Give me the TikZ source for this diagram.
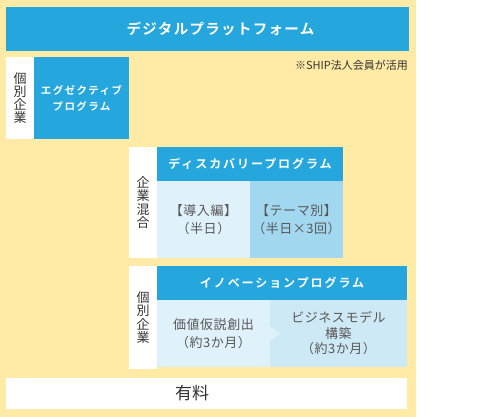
\documentclass[tikz,border=0pt]{standalone}
\usepackage{fontspec}
\setmainfont{Noto Sans CJK JP}[BoldFont={Noto Sans CJK JP Bold}]
\usetikzlibrary{positioning}
\definecolor{ylbg}{HTML}{FFEAA6}
\definecolor{sblue}{HTML}{25A6DC}
\definecolor{palecell}{HTML}{DFF1FA}
\definecolor{midcell}{HTML}{A1D8F0}
\definecolor{softcell}{HTML}{CDE9F5}
\definecolor{txtgray}{HTML}{595757}
\definecolor{txtdark}{HTML}{333333}

\begin{document}
\begin{tikzpicture}[x=1pt,y=-1pt,
  bluebar/.style={fill=sblue,text=white,inner sep=0pt,outer sep=0pt},
  sidelbl/.style={fill=white,inner sep=0pt,outer sep=0pt,minimum width=28pt,align=center,text=txtdark,font=\fontsize{13}{13.2}\selectfont},
  cellbox/.style={inner sep=0pt,outer sep=0pt,align=center,text=txtgray,font=\fontsize{13}{17.5}\selectfont\addfontfeature{LetterSpace=4}}]
\useasboundingbox (0,0) rectangle (504,417);
\fill[ylbg] (0,0) rectangle (416,417);
% platform bar
\node[bluebar,minimum width=403pt,minimum height=44pt] (plat) at (207.5,29) {};
\node[text=white,inner sep=0pt,font=\bfseries\fontsize{14.5}{16}\selectfont\addfontfeature{LetterSpace=9}] (plattxt) at (220.5,29) {デジタルプラットフォーム};
\node[anchor=east,inner sep=0pt,text=txtdark,font=\fontsize{11}{12}\selectfont] (note) at (408,65) {※SHIP法人会員が活用};
% executive
\node[sidelbl,minimum height=82pt] (lbl1) at (20,98) {個\\別\\企\\業};
\node[bluebar,minimum width=95pt,minimum height=82pt,align=center,font=\bfseries\fontsize{10.5}{16}\selectfont\addfontfeature{LetterSpace=13}] (exec) at (81.5,98) {エグゼクティブ\\プログラム};
% discovery
\node[sidelbl,minimum height=111pt] (lbl2) at (143,202.5) {企\\業\\混\\合};
\node[bluebar,minimum width=186pt,minimum height=34pt,font=\bfseries\fontsize{12}{14}\selectfont\addfontfeature{LetterSpace=16}] (disc) at (250,164) {ディスカバリープログラム};
\node[cellbox,fill=palecell,minimum width=93pt,minimum height=77pt] (discA) at (203.5,219.5) {【導入編】\\（半日）};
\node[cellbox,fill=midcell,minimum width=93pt,minimum height=77pt] (discB) at (296.5,219.5) {【テーマ別】\\（半日×3回）};
% innovation
\node[sidelbl,minimum height=103pt] (lbl3) at (143,317.5) {個\\別\\企\\業};
\node[bluebar,minimum width=250pt,minimum height=34pt,font=\bfseries\fontsize{12}{14}\selectfont\addfontfeature{LetterSpace=16}] (innov) at (282,283) {イノベーションプログラム};
\node[cellbox,fill=palecell,minimum width=113pt,minimum height=67pt] (innovA) at (213.5,333.5) {価値仮説創出\\（約3か月）};
\node[cellbox,fill=softcell,minimum width=137pt,minimum height=67pt,font=\fontsize{13}{15.5}\selectfont\addfontfeature{LetterSpace=4}] (innovB) at (338.5,333.5) {ビジネスモデル\\構築\\（約3か月）};
\fill[palecell] (innovA.east) ++(0,-7) -- ++(10,7) -- ++(-10,7) -- cycle;
% fee
\node[fill=white,inner sep=0pt,outer sep=0pt,minimum width=401pt,minimum height=31pt] (fee) at (206.5,393) {};
\node[text=txtdark,inner sep=0pt,font=\fontsize{17}{19}\selectfont] (feetxt) at (192,393) {有料};
\end{tikzpicture}
\end{document}
